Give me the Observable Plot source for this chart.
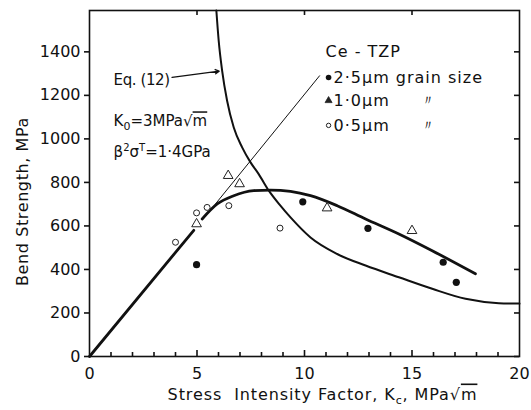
<!DOCTYPE html>
<html><head><meta charset="utf-8">
<script src="https://cdn.jsdelivr.net/npm/d3@7"></script>
<script src="https://cdn.jsdelivr.net/npm/@observablehq/plot@0.6"></script>
<style>body{margin:0;background:#fff;}</style>
</head><body><div id="chart"></div>
<script>
// ---- data ----
const xTickLabels = [0, 5, 10, 15, 20];
const xMinorTicks = [1, 2, 3, 4, 6, 7, 8, 9, 11, 12, 13, 14, 16, 17, 18, 19];
const xMajorTicks = [5, 10, 15];
const yTicks = [0, 200, 400, 600, 800, 1000, 1200, 1400];

// linear part
const linX = [0, 4.85];
const linY = [0, 580];
// thick fitted curve
const fitX = [5.24, 5.94, 6.71, 7.64, 8.42, 9.35, 10.28, 11.52, 12.84, 14.39, 15.94, 17.95];
const fitY = [632, 701, 739, 762, 765, 759, 739, 693, 632, 563, 486, 380];
// Eq. (12) curve
const eqX = [5.9, 6.01, 6.17, 6.40, 6.71, 7.10, 7.49, 7.87, 8.34, 8.88, 9.35, 10.28, 11.52, 12.84, 14.39, 15.94, 17.49, 19.04, 20];
const eqY = [1590, 1450, 1313, 1175, 1052, 961, 892, 838, 762, 693, 639, 547, 471, 418, 364, 311, 265, 245, 243];
// thin line
const thinX = [5.85, 10.7];
const thinY = [700, 1290];

// measured points
const g25X = [4.98, 9.92, 12.95, 16.45, 17.06];
const g25Y = [422, 711, 589, 433, 341];
const g10X = [4.98, 6.45, 6.98, 11.05, 15.0];
const g10Y = [609, 831, 793, 682, 578];
const g05X = [4.0, 4.98, 5.47, 6.48, 8.86];
const g05Y = [525, 660, 685, 693, 590];

// annotation texts
const legendTitle = "Ce - TZP";
const legendLabels = ["2·5μm grain size", "1·0μm", "0·5μm"];
const dittoLabels = ["〃", "〃"];
const noteLabels = ["Eq. (12)", "K0=3MPa√m", "B2sT=1·4GPa"];
const xTitle = "Stress  Intensity Factor, Kc, MPa√m";
const yTitle = "Bend Strength, MPa";

// ---- tables ----
const toRows = (xs, ys) => xs.map((x, i) => ({x, y: ys[i]}));
const lin = toRows(linX, linY);
const fit = toRows(fitX, fitY);
const eq = toRows(eqX, eqY);
const thin = toRows(thinX, thinY);
const p25 = toRows(g25X, g25Y);
const p10 = toRows(g10X, g10Y);
const p05 = toRows(g05X, g05Y);

// annotation anchors (data units)
const legendMarkX = 11.12;
const legendTextX = 11.35;
const legendTitleX = 10.98;
const legendTitleY = 1402;
const legendRowY = [1282, 1176, 1062];
const dittoX = 15.75;
const noteX = 1.12;
const noteY = [1268, 1080, 937];
const leader = [{x1: 3.84, y1: 1283, x2: 6.03, y2: 1311}];

const W = 531, H = 410, mL = 89, mR = 12, mT = 10, mB = 54;
const frameW = W - mL - mR, frameH = H - mT - mB;
const font = "DejaVu Sans, sans-serif";

const chart = Plot.plot({
  width: W,
  height: H,
  marginLeft: mL,
  marginRight: mR,
  marginTop: mT,
  marginBottom: mB,
  style: {fontFamily: font, fontSize: "16px", color: "#111", background: "#fff"},
  x: {domain: [0, 20]},
  y: {domain: [0, 1590]},
  marks: [
    Plot.frame({stroke: "#111", strokeWidth: 1.6}),
    Plot.axisY({ticks: yTicks, tickSize: 5, tickPadding: 4, tickFormat: d => String(d), label: null, fontSize: 16, strokeWidth: 1.6}),
    Plot.axisX({ticks: xTickLabels, tickSize: 0, tickPadding: 11, tickFormat: d => String(d), label: null, fontSize: 16}),
    // inward ticks (bottom minor/major, top, right)
    Plot.ruleX(xMinorTicks, {x: d => d, insetTop: frameH - 4, stroke: "#111", strokeWidth: 1.6}),
    Plot.ruleX(xMajorTicks, {x: d => d, insetTop: frameH - 6, stroke: "#111", strokeWidth: 1.6}),
    Plot.ruleX(xMajorTicks, {x: d => d, insetBottom: frameH - 5, stroke: "#111", strokeWidth: 1.6}),
    Plot.ruleY(yTicks, {y: d => d, insetLeft: frameW - 5, stroke: "#111", strokeWidth: 1.6}),
    // axis titles
    Plot.text([yTitle], {frameAnchor: "left", textAnchor: "middle", text: d => d, rotate: -90, dx: -67, dy: 18, fontSize: 16}),
    Plot.text([xTitle], {frameAnchor: "bottom", textAnchor: "middle", text: d => d, dx: 18, dy: 43, fontSize: 16}),
    // curves
    Plot.line(lin, {x: "x", y: "y", stroke: "#111", strokeWidth: 2.8}),
    Plot.line(fit, {x: "x", y: "y", stroke: "#111", strokeWidth: 2.8, curve: "monotone-x"}),
    Plot.line(eq, {x: "x", y: "y", stroke: "#111", strokeWidth: 2, curve: "monotone-x"}),
    Plot.line(thin, {x: "x", y: "y", stroke: "#111", strokeWidth: 1}),
    Plot.arrow(leader, {x1: "x1", y1: "y1", x2: "x2", y2: "y2", stroke: "#111", strokeWidth: 1.3, headLength: 5}),
    // points
    Plot.dot(p10, {x: "x", y: "y", symbol: "triangle", r: 3.6, stroke: "#222", strokeWidth: 1, fill: "white"}),
    Plot.dot(p05, {x: "x", y: "y", symbol: "circle", r: 3, stroke: "#222", strokeWidth: 1, fill: "white"}),
    Plot.dot(p25, {x: "x", y: "y", symbol: "circle", r: 3.6, fill: "#111", stroke: null}),
    // legend
    Plot.text([legendTitle], {x: legendTitleX, y: legendTitleY, text: d => d, textAnchor: "start", fontSize: 16}),
    Plot.dot([0], {x: legendMarkX, y: legendRowY[0], r: 2.8, fill: "#111"}),
    Plot.dot([0], {x: legendMarkX, y: legendRowY[1], r: 2.6, symbol: "triangle", fill: "#222", stroke: "#222", strokeWidth: 0.8}),
    Plot.dot([0], {x: legendMarkX, y: legendRowY[2], r: 2.2, stroke: "#222", strokeWidth: 1, fill: "white"}),
    Plot.text(legendLabels, {x: legendTextX, y: (d, i) => legendRowY[i], text: d => d, textAnchor: "start", fontSize: 16}),
    Plot.text(dittoLabels, {x: dittoX, y: (d, i) => legendRowY[i + 1], text: d => d, textAnchor: "middle", fontSize: 14}),
    // notes
    Plot.text(noteLabels, {x: noteX, y: (d, i) => noteY[i], text: d => d, textAnchor: "start", fontSize: 15})
  ]
});

document.getElementById("chart").appendChild(chart);

// rich text (subscripts, superscripts, overline)
const richMap = {
  "K0=3MPa√m": [{t: "K"}, {t: "0", dy: 4, size: 11}, {t: "=3MPa√", dy: -4}, {t: "m", over: true}],
  "B2sT=1·4GPa": [{t: "β"}, {t: "2", dy: -6, size: 10}, {t: "σ", dy: 6}, {t: "T", dy: -6, size: 10}, {t: "=1·4GPa", dy: 6}],
  "Stress  Intensity Factor, Kc, MPa√m": [{t: "Stress\u00a0\u00a0Intensity Factor, K"}, {t: "c", dy: 4, size: 11}, {t: ", MPa√", dy: -4}, {t: "m", over: true}]
};
const spacing = {
  "Stress  Intensity Factor, Kc, MPa√m": "0.9px",
  "Bend Strength, MPa": "0.6px",
  "Ce - TZP": "1px",
  "2·5μm grain size": "1px",
  "1·0μm": "1px",
  "0·5μm": "1px",
  "Eq. (12)": "-0.4px"
};
d3.select(chart).selectAll("text").each(function () {
  const key = this.textContent;
  if (spacing[key]) d3.select(this).style("letter-spacing", spacing[key]);
  const parts = richMap[key];
  if (!parts) return;
  const t = d3.select(this);
  t.text(null);
  for (const p of parts) {
    const ts = t.append("tspan").text(p.t);
    if (p.dy) ts.attr("dy", p.dy);
    if (p.size) ts.attr("font-size", p.size);
    if (p.over) ts.style("text-decoration", "overline");
  }
});
</script>
</body></html>
